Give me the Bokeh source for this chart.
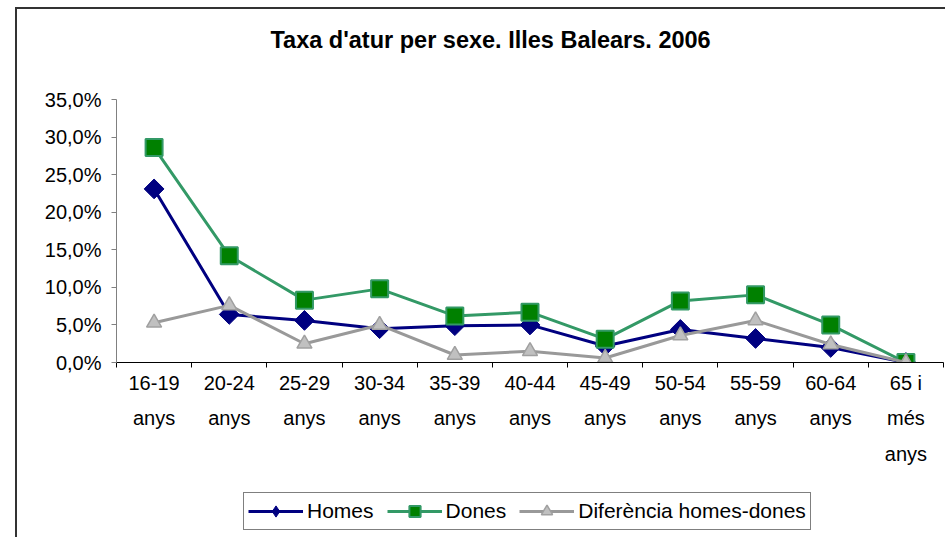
import math
from bokeh.plotting import figure
from bokeh.layouts import column
from bokeh.models import FixedTicker, Legend, LegendItem, Range1d, Title
from bokeh.embed import file_html
from bokeh.resources import INLINE

# ---- data ----
categories = ["16-19\nanys", "20-24\nanys", "25-29\nanys", "30-34\nanys", "35-39\nanys",
              "40-44\nanys", "45-49\nanys", "50-54\nanys", "55-59\nanys", "60-64\nanys",
              "65 i\nmés\nanys"]
homes = [23.1, 6.4, 5.6, 4.5, 4.9, 5.0, 2.2, 4.4, 3.2, 2.0, 0.0]
dones = [28.6, 14.2, 8.3, 9.8, 6.2, 6.7, 3.1, 8.2, 9.0, 5.0, 0.0]
diferencia = [5.3, 7.6, 2.5, 5.0, 1.0, 1.5, 0.6, 3.6, 5.6, 2.4, 0.0]
y_ticks = [0, 5, 10, 15, 20, 25, 30, 35]
y_tick_labels = ["0,0%", "5,0%", "10,0%", "15,0%", "20,0%", "25,0%", "30,0%", "35,0%"]
series_names = ["Homes", "Dones", "Diferència homes-dones"]
title_text = "Taxa d'atur per sexe. Illes Balears. 2006"

xs = list(range(len(categories)))

FONT = "Liberation Sans"

HOMES = dict(line_color="#000080", line_width=3)
HOMES_M = dict(marker="square", angle=math.pi / 4, size=14, fill_color="#000080",
               line_color="#000080")
DONES = dict(line_color="#339966", line_width=3)
DONES_M = dict(marker="square", size=17, fill_color="#008000", line_color="#339966",
               line_width=2)
DIF = dict(line_color="#999999", line_width=3)
DIF_M = dict(marker="triangle", size=15, fill_color="#C0C0C0", line_color="#A0A0A0",
             line_width=1.5)

# ---------------- main chart ----------------
p = figure(width=945, height=490, output_backend="svg", toolbar_location=None,
           x_range=Range1d(-0.5, len(categories) - 0.5), y_range=Range1d(0, 35),
           min_border_left=116, min_border_right=2, min_border_top=0,
           min_border_bottom=128)
p.title.text = ""
p.grid.visible = False
p.outline_line_color = None
p.background_fill_color = "white"
p.border_fill_color = None

# y axis
p.yaxis.ticker = FixedTicker(ticks=y_ticks)
p.yaxis.major_label_overrides = dict(zip(y_ticks, y_tick_labels))
p.yaxis.axis_line_color = "#808080"
p.yaxis.major_tick_line_color = "#808080"
p.yaxis.major_tick_in = 0
p.yaxis.major_tick_out = 5
p.yaxis.minor_tick_line_color = None
p.yaxis.major_label_text_font = FONT
p.yaxis.major_label_text_font_size = "20px"
p.yaxis.major_label_text_color = "black"
p.yaxis.major_label_standoff = 10

# x axis
p.xaxis.ticker = FixedTicker(ticks=xs, minor_ticks=[i - 0.5 for i in range(len(categories) + 1)])
p.xaxis.major_label_overrides = dict(zip(xs, categories))
p.xaxis.axis_line_color = "black"
p.xaxis.major_tick_out = 0
p.xaxis.major_tick_in = 0
p.xaxis.minor_tick_out = 5
p.xaxis.minor_tick_in = 0
p.xaxis.minor_tick_line_color = "black"
p.xaxis.major_label_text_font = FONT
p.xaxis.major_label_text_font_size = "20px"
p.xaxis.major_label_text_color = "black"
p.xaxis.major_label_text_line_height = 1.62
p.xaxis.major_label_standoff = 4

# series
p.line(xs, homes, **HOMES)
p.scatter(xs, homes, **HOMES_M)
p.line(xs, dones, **DONES)
p.scatter(xs, dones, **DONES_M)
p.line(xs, diferencia, **DIF)
p.scatter(xs, diferencia, **DIF_M)

# spacer title (nearest the frame) and the real title above it
spacer = Title(text=" ", text_font_size="1px", standoff=17)
p.add_layout(spacer, "above")
title = Title(text=title_text, align="left", offset=154, vertical_align="middle",
              standoff=51, text_font=FONT, text_font_style="bold",
              text_font_size="23.5px", text_color="black")
p.add_layout(title, "above")

# ---------------- legend strip ----------------
# same series, drawn out of this strip's view; only their legend glyphs show
lf = figure(width=945, height=47, output_backend="svg", toolbar_location=None,
            x_axis_type=None, y_axis_type=None, x_range=Range1d(-0.5, 0.5),
            y_range=Range1d(-2, -1), min_border=0)
lf.title.text = ""
lf.grid.visible = False
lf.outline_line_color = None
lf.background_fill_color = None
lf.border_fill_color = None
r1 = lf.line(xs, homes, **HOMES)
m1 = lf.scatter(xs, homes, marker="diamond", size=16, fill_color="#000080",
                line_color="#000080")
r2 = lf.line(xs, dones, **DONES)
m2 = lf.scatter(xs, dones, **DONES_M)
r3 = lf.line(xs, diferencia, **DIF)
m3 = lf.scatter(xs, diferencia, **DIF_M)

legend = Legend(items=[LegendItem(label=series_names[0], renderers=[r1, m1]),
                       LegendItem(label=series_names[1], renderers=[r2, m2]),
                       LegendItem(label=series_names[2], renderers=[r3, m3])],
                location=(127, 7), orientation="horizontal")
legend.label_text_font = FONT
legend.label_text_font_size = "21px"
legend.label_text_color = "black"
legend.glyph_width = 55
legend.glyph_height = 28
legend.label_standoff = 4
legend.spacing = 13
legend.padding = 4
legend.margin = 0
legend.border_line_color = "black"
legend.border_line_width = 1
legend.background_fill_color = "white"
legend.background_fill_alpha = 1
lf.add_layout(legend)

layout = column(p, lf, spacing=0)
layout.styles = {
    "background": ("linear-gradient(#333,#333) 15px 7px / 2px calc(100% - 7px) no-repeat, "
                   "linear-gradient(#333,#333) 15px 7px / calc(100% - 15px) 2px no-repeat, "
                   "white")
}

open("out.html", "w").write(file_html(layout, INLINE))
